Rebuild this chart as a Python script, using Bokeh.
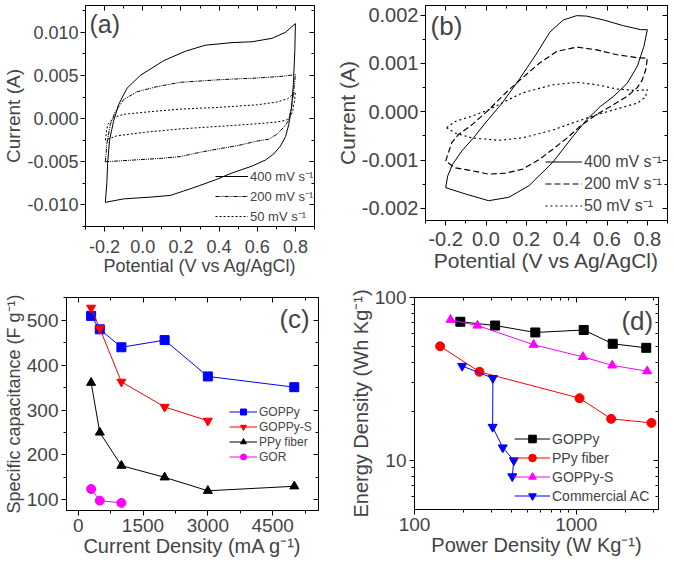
from bokeh.plotting import figure
from bokeh.models import (FixedTicker, PrintfTickFormatter, LinearAxis, LogAxis, Label)
from bokeh.layouts import column, row
from bokeh.embed import file_html
from bokeh.resources import INLINE

FONT = "Liberation Sans"

# ---------------- Panel (a): CV of GOPPy ----------------
a_x400 = [-0.196, -0.188, -0.184, -0.174, -0.153, -0.127, -0.083, -0.013, 0.109, 0.223, 0.328, 0.468, 0.573,
          0.678, 0.748, 0.800, 0.797, 0.790, 0.779, 0.765, 0.748, 0.721, 0.686, 0.643, 0.573, 0.468, 0.380,
          0.293, 0.213, 0.144, 0.039, -0.100, -0.196]
a_y400 = [-0.0097, -0.0074, -0.0052, -0.0025, -0.0003, 0.0016, 0.0035, 0.0050, 0.0067, 0.0078, 0.0085, 0.0088,
          0.0089, 0.0093, 0.0100, 0.0110, 0.0080, 0.0042, 0.0012, -0.0007, -0.0021, -0.0032, -0.0041, -0.0048,
          -0.0055, -0.0063, -0.0071, -0.0078, -0.0084, -0.0089, -0.0091, -0.0093, -0.0097]
a_x200 = [-0.196, -0.188, -0.170, -0.144, -0.100, -0.031, 0.074, 0.196, 0.400, 0.600, 0.730, 0.800, 0.791,
          0.779, 0.762, 0.739, 0.704, 0.660, 0.600, 0.503, 0.400, 0.300, 0.196, 0.100, -0.048, -0.196]
a_y200 = [-0.0050, -0.0029, -0.0007, 0.0008, 0.0022, 0.0031, 0.0037, 0.0042, 0.0045, 0.0047, 0.0049, 0.0051,
          0.0031, 0.0012, -0.0003, -0.0010, -0.0018, -0.0024, -0.0026, -0.0031, -0.0035, -0.0039, -0.0044,
          -0.0046, -0.0048, -0.0050]
a_x50 = [-0.196, -0.184, -0.153, -0.100, 0.039, 0.196, 0.400, 0.600, 0.700, 0.760, 0.800, 0.795, 0.785, 0.770,
         0.750, 0.700, 0.600, 0.400, 0.196, 0.004, -0.136, -0.196]
a_y50 = [-0.0025, -0.0007, 0.0001, 0.0005, 0.0008, 0.0011, 0.0013, 0.0016, 0.0019, 0.0023, 0.0031, 0.0020,
         0.0008, 0.0001, -0.0002, -0.0004, -0.0006, -0.0009, -0.0012, -0.0016, -0.0020, -0.0025]

# ---------------- Panel (b): CV of PPy fiber ----------------
b_x400 = [-0.200, -0.190, -0.166, -0.120, -0.062, -0.003, 0.080, 0.163, 0.247, 0.317, 0.383, 0.450, 0.500,
          0.583, 0.683, 0.767, 0.800, 0.783, 0.750, 0.700, 0.633, 0.567, 0.500, 0.433, 0.330, 0.213, 0.113,
          0.013, -0.103, -0.200]
b_y400 = [-0.00157, -0.00133, -0.00109, -0.00081, -0.00054, -0.00023, 0.00018, 0.00066, 0.00118, 0.00165,
          0.00190, 0.00199, 0.00198, 0.00190, 0.00178, 0.00170, 0.00170, 0.00135, 0.00094, 0.00059, 0.00032,
          0.00011, -0.00016, -0.00050, -0.00105, -0.00153, -0.00177, -0.00184, -0.00170, -0.00157]
b_x200 = [-0.200, -0.170, -0.137, -0.070, 0.013, 0.097, 0.180, 0.263, 0.350, 0.450, 0.550, 0.650, 0.750, 0.800,
          0.792, 0.775, 0.750, 0.700, 0.633, 0.550, 0.467, 0.400, 0.330, 0.263, 0.180, 0.097, 0.013, -0.070,
          -0.153, -0.200]
b_y200 = [-0.00102, -0.00064, -0.00047, -0.00027, 0.00004, 0.00039, 0.00070, 0.00100, 0.00125, 0.00134,
          0.00128, 0.00118, 0.00112, 0.00111, 0.00087, 0.00066, 0.00050, 0.00032, 0.00015, -0.00005, -0.00030,
          -0.00055, -0.00078, -0.00099, -0.00119, -0.00127, -0.00129, -0.00122, -0.00116, -0.00102]
b_x50 = [-0.195, -0.153, -0.070, 0.013, 0.097, 0.180, 0.330, 0.450, 0.550, 0.650, 0.750, 0.800, 0.790, 0.750,
         0.667, 0.550, 0.417, 0.330, 0.180, 0.063, -0.070, -0.153, -0.195]
b_y50 = [-0.00033, -0.00020, -0.00009, 0.00004, 0.00022, 0.00039, 0.00056, 0.00061, 0.00056, 0.00047,
         0.00044, 0.00046, 0.00030, 0.00018, 0.00008, -0.00006, -0.00025, -0.00038, -0.00054, -0.00059,
         -0.00054, -0.00044, -0.00033]

cv_labels = ["400 mV s\u207b\u00b9", "200 mV s\u207b\u00b9", "50 mV s\u207b\u00b9"]
cv_xticks = [-0.2, 0.0, 0.2, 0.4, 0.6, 0.8]
cv_xminor = [-0.3, -0.1, 0.1, 0.3, 0.5, 0.7, 0.9]
a_yticks = [-0.010, -0.005, 0.0, 0.005, 0.010]
a_yminor = [-0.0125, -0.0075, -0.0025, 0.0025, 0.0075, 0.0125]
b_yticks = [-0.002, -0.001, 0.0, 0.001, 0.002]
b_yminor = [-0.0025, -0.0015, -0.0005, 0.0005, 0.0015]

# ---------------- Panel (c): specific capacitance ----------------
c_goppy_x = [300, 500, 1000, 2000, 3000, 5000]
c_goppy_y = [510, 480, 440, 456, 375, 351]
c_goppys_x = [300, 500, 1000, 2000, 3000]
c_goppys_y = [528, 482, 363, 307, 276]
c_ppy_x = [300, 500, 1000, 2000, 3000, 5000]
c_ppy_y = [361, 250, 176, 150, 120, 130]
c_gor_x = [300, 500, 1000]
c_gor_y = [124, 98, 93]
c_xticks = [0, 1500, 3000, 4500]
c_xminor = [750, 2250, 3750, 5250]
c_yticks = [100, 200, 300, 400, 500]
c_yminor = [50, 150, 250, 350, 450, 550]

# ---------------- Panel (d): Ragone plot ----------------
d_goppy_x = [192, 315, 558, 1111, 1679, 2705]
d_goppy_y = [71, 67.3, 61, 63.2, 52, 49.1]
d_ppy_x = [144, 252, 1047, 1641, 2912]
d_ppy_y = [50.2, 35.0, 24.1, 18.0, 17.0]
d_goppys_x = [167, 245, 545, 1099, 1667, 2742]
d_goppys_y = [73, 67.3, 51.3, 43.2, 38.3, 35.3]
d_ac_x = [197, 305, 304, 351, 411, 402]
d_ac_y = [38.0, 32.0, 16.05, 12.0, 10.0, 7.98]
d_xticks = [100, 1000]
d_xminor = [200, 300, 400, 500, 600, 700, 800, 900, 2000, 3000]
d_yticks = [10, 100]
d_yminor = [6, 7, 8, 9, 20, 30, 40, 50, 60, 70, 80, 90]


def base_style(p):
    p.grid.visible = False
    p.outline_line_color = "black"
    p.outline_line_width = 1
    p.background_fill_color = "white"
    p.border_fill_color = "white"


def style_axis(ax, ticks, minor, fmt, tick_size, label, label_size, standoff, label_standoff):
    ax.ticker = FixedTicker(ticks=ticks, minor_ticks=minor)
    ax.formatter = PrintfTickFormatter(format=fmt)
    ax.axis_label = label
    ax.axis_label_text_font = FONT
    ax.axis_label_text_font_style = "normal"
    ax.axis_label_text_font_size = label_size
    ax.axis_label_standoff = label_standoff
    ax.major_label_text_font = FONT
    ax.major_label_text_font_size = tick_size
    ax.major_label_standoff = standoff
    ax.major_tick_out = 5
    ax.major_tick_in = 0
    ax.minor_tick_out = 3
    ax.minor_tick_in = 0
    ax.axis_line_color = "black"
    ax.major_tick_line_color = "black"
    ax.minor_tick_line_color = "black"


def mirror(p, side, ticks, minor, log=False):
    cls = LogAxis if log else LinearAxis
    ax = cls(ticker=FixedTicker(ticks=ticks, minor_ticks=minor),
             formatter=PrintfTickFormatter(format="%g"),
             major_label_overrides={t: "" for t in ticks},
             major_label_text_font_size="1px", major_label_standoff=0, axis_label_standoff=0,
             major_tick_in=5, major_tick_out=0, minor_tick_in=3, minor_tick_out=0,
             axis_line_color="black")
    p.add_layout(ax, side)


def style_legend(p, loc, gw, gh, size):
    lg = p.legend[0]
    lg.location = loc
    lg.background_fill_alpha = 0
    lg.border_line_color = None
    lg.padding = 0
    lg.margin = 0
    lg.spacing = 0
    lg.glyph_width = gw
    lg.glyph_height = gh
    lg.label_height = gh
    lg.label_standoff = 2
    lg.label_text_font = FONT
    lg.label_text_font_size = size


# ---- (a)
pa = figure(frame_width=229, frame_height=221, x_range=(-0.3, 0.9), y_range=(-0.0125, 0.0131),
            min_border_left=79, min_border_right=18, min_border_top=2, min_border_bottom=57,
            output_backend="svg", toolbar_location=None)
base_style(pa)
pa.line(a_x400, a_y400, line_color="black", line_width=1, legend_label=cv_labels[0])
pa.line(a_x200, a_y200, line_color="black", line_width=1, line_dash="4 1 1 1 1 1", legend_label=cv_labels[1])
pa.line(a_x50, a_y50, line_color="black", line_width=1, line_dash="2 2", legend_label=cv_labels[2])
style_axis(pa.xaxis[0], cv_xticks, cv_xminor, "%.1f", "18px", "Potential (V vs Ag/AgCl)", "18px", 8, 0)
style_axis(pa.yaxis[0], a_yticks, a_yminor, "%.3f", "18px", "Current (A)", "19px", 2, 0)
mirror(pa, "above", cv_xticks, cv_xminor)
mirror(pa, "right", a_yticks, a_yminor)
style_legend(pa, (130, 0), 33, 20, "13px")
pa.add_layout(Label(x=-0.279, y=0.0109, text="(a)", text_font=FONT, text_font_size="25px",
                    text_baseline="middle", text_align="left"))

# ---- (b)
pb = figure(frame_width=242, frame_height=215, x_range=(-0.3, 0.9), y_range=(-0.00225, 0.0022),
            min_border_left=89, min_border_right=1, min_border_top=5, min_border_bottom=60,
            output_backend="svg", toolbar_location=None)
base_style(pb)
pb.line(b_x400, b_y400, line_color="black", line_width=1, legend_label=cv_labels[0])
pb.line(b_x200, b_y200, line_color="black", line_width=1.2, line_dash="6 3", legend_label=cv_labels[1])
pb.line(b_x50, b_y50, line_color="black", line_width=1.2, line_dash="2 3", legend_label=cv_labels[2])
style_axis(pb.xaxis[0], cv_xticks, cv_xminor, "%.1f", "20px", "Potential (V vs Ag/AgCl)", "21px", 6, 0)
style_axis(pb.yaxis[0], b_yticks, b_yminor, "%.3f", "20px", "Current (A)", "21px", 2, 0)
mirror(pb, "above", cv_xticks, cv_xminor)
mirror(pb, "right", b_yticks, b_yminor)
style_legend(pb, (120, 4), 37, 21, "16px")
pb.add_layout(Label(x=-0.275, y=0.00178, text="(b)", text_font=FONT, text_font_size="26px",
                    text_baseline="middle", text_align="left"))

# ---- (c)
pc = figure(frame_width=252, frame_height=213, x_range=(-270, 5560), y_range=(76, 551),
            min_border_left=64, min_border_right=10, min_border_top=14, min_border_bottom=50,
            output_backend="svg", toolbar_location=None)
base_style(pc)
for xs, ys, col, mk, lab in [(c_goppy_x, c_goppy_y, "#0000ff", "square", "GOPPy"),
                             (c_goppys_x, c_goppys_y, "#ff0000", "inverted_triangle", "GOPPy-S"),
                             (c_ppy_x, c_ppy_y, "black", "triangle", "PPy fiber"),
                             (c_gor_x, c_gor_y, "#ff00ff", "circle", "GOR")]:
    pc.line(xs, ys, line_color=col, line_width=1, legend_label=lab)
    pc.scatter(xs, ys, marker=mk, size=9, fill_color=col, line_color=col, legend_label=lab)
style_axis(pc.xaxis[0], c_xticks, c_xminor, "%d", "19px", "Current Density (mA g\u207b\u00b9)", "20px", 3, 0)
style_axis(pc.yaxis[0], c_yticks, c_yminor, "%d", "19px", "Specific capacitance (F g\u207b\u00b9)", "18px", 3, 0)
mirror(pc, "above", c_xticks, c_xminor)
mirror(pc, "right", c_yticks, c_yminor)
style_legend(pc, (163, 46), 28, 15, "12px")
pc.add_layout(Label(x=4655, y=502, text="(c)", text_font=FONT, text_font_size="26px",
                    text_baseline="middle", text_align="left"))

# ---- (d)
pd_ = figure(frame_width=244, frame_height=212, x_axis_type="log", y_axis_type="log",
             x_range=(100, 3220), y_range=(5, 100),
             min_border_left=86, min_border_right=2, min_border_top=17, min_border_bottom=48,
             output_backend="svg", toolbar_location=None)
base_style(pd_)
for xs, ys, col, mk, lab in [(d_goppy_x, d_goppy_y, "black", "square", "GOPPy"),
                             (d_ppy_x, d_ppy_y, "#ff0000", "circle", "PPy fiber"),
                             (d_goppys_x, d_goppys_y, "#ff00ff", "triangle", "GOPPy-S"),
                             (d_ac_x, d_ac_y, "#0000ff", "inverted_triangle", "Commercial AC")]:
    pd_.line(xs, ys, line_color=col, line_width=1, legend_label=lab)
    pd_.scatter(xs, ys, marker=mk, size=9, fill_color=col, line_color=col, legend_label=lab)
style_axis(pd_.xaxis[0], d_xticks, d_xminor, "%d", "19px", "Power Density (W Kg\u207b\u00b9)", "20px", 3, 0)
style_axis(pd_.yaxis[0], d_yticks, d_yminor, "%d", "19px", "Energy Density (Wh Kg\u207b\u00b9)", "20px", 3, 0)
mirror(pd_, "above", d_xticks, d_xminor, log=True)
mirror(pd_, "right", d_yticks, d_yminor, log=True)
style_legend(pd_, (100, 4), 36, 19, "14px")
pd_.add_layout(Label(x=1901, y=71.3, text="(d)", text_font=FONT, text_font_size="26px",
                     text_baseline="middle", text_align="left"))

layout = column(row(pa, pb, spacing=0), row(pc, pd_, spacing=0), spacing=0)
open("out.html", "w").write(file_html(layout, INLINE))
